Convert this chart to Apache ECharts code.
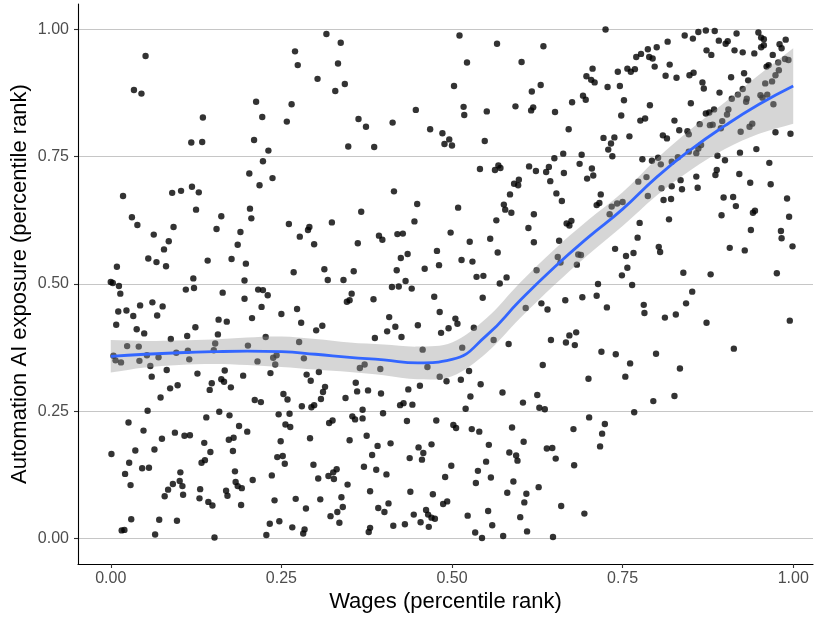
<!DOCTYPE html>
<html>
<head>
<meta charset="utf-8">
<script src="https://cdn.jsdelivr.net/npm/echarts@6/dist/echarts.min.js"></script>
<style>
  html, body { margin: 0; padding: 0; background: #ffffff; }
  #chart { width: 818px; height: 617px; }
</style>
</head>
<body>
<div id="chart"></div>
<script>
// Occupations: [wage percentile rank, automation AI exposure percentile rank]
const occupations = [
  [0.051,0.948],[0.034,0.881],[0.045,0.874],[0.213,0.858],[0.135,0.827],[0.118,0.778],[0.134,0.779],[0.210,0.783],[0.203,0.717],[0.119,0.691],
  [0.222,0.828],[0.223,0.741],[0.231,0.762],[0.237,0.708],[0.218,0.694],[0.270,0.957],[0.274,0.930],[0.265,0.853],[0.258,0.819],[0.316,0.991],[0.337,0.974],[0.333,0.933],[0.303,0.903],[0.343,0.893],[0.329,0.879],[0.363,0.824],[0.374,0.809],[0.348,0.770],[0.386,0.769],[0.413,0.817],[0.447,0.842],[0.468,0.804],
  [0.511,0.988],[0.566,0.972],[0.634,0.967],[0.725,1.000],[0.522,0.935],[0.602,0.936],[0.503,0.889],[0.706,0.923],[0.697,0.908],[0.704,0.901],[0.709,0.896],[0.743,0.917],[0.728,0.887],[0.630,0.891],[0.617,0.878],[0.593,0.849],[0.616,0.841],[0.619,0.847],[0.651,0.838],[0.676,0.857],[0.692,0.870],[0.696,0.862],[0.517,0.848],[0.518,0.832],[0.551,0.839],[0.486,0.796],[0.496,0.784],[0.489,0.775],[0.500,0.772],[0.548,0.781],[0.671,0.804],[0.722,0.787],[0.738,0.788],[0.733,0.776],[0.729,0.764],[0.735,0.751],[0.650,0.747],[0.663,0.756],[0.690,0.754],[0.541,0.726],[0.563,0.724],[0.568,0.733],[0.571,0.728],[0.613,0.731],[0.623,0.722],[0.642,0.730],[0.638,0.720],[0.664,0.718],[0.687,0.736],[0.705,0.727],[0.707,0.713],[0.698,0.707],[0.598,0.705],[0.591,0.697],[0.597,0.694],[0.644,0.702],
  [0.841,0.988],[0.853,0.982],[0.861,0.995],[0.872,0.998],[0.885,0.997],[0.891,0.978],[0.917,0.992],[0.949,0.994],[0.953,0.984],[0.957,0.981],[0.989,0.980],[0.901,0.972],[0.904,0.977],[0.816,0.976],[0.800,0.965],[0.787,0.961],[0.777,0.952],[0.770,0.946],[0.789,0.946],[0.794,0.943],[0.797,0.927],[0.819,0.931],[0.873,0.959],[0.880,0.950],[0.914,0.959],[0.926,0.955],[0.943,0.953],[0.953,0.965],[0.957,0.969],[0.980,0.971],[0.983,0.963],[0.970,0.950],[0.988,0.942],[0.993,0.940],[0.978,0.935],[0.961,0.927],[0.964,0.930],[0.757,0.923],[0.762,0.917],[0.768,0.922],[0.813,0.909],[0.829,0.905],[0.848,0.910],[0.854,0.915],[0.867,0.896],[0.869,0.884],[0.909,0.906],[0.928,0.914],[0.934,0.900],[0.979,0.920],[0.974,0.910],[0.969,0.898],[0.959,0.894],[0.746,0.889],[0.752,0.861],[0.748,0.831],[0.790,0.851],[0.850,0.855],[0.892,0.876],[0.910,0.864],[0.919,0.872],[0.926,0.883],[0.932,0.864],[0.931,0.858],[0.952,0.871],[0.955,0.866],[0.962,0.872],[0.971,0.853],[0.872,0.835],[0.877,0.837],[0.884,0.843],[0.905,0.843],[0.903,0.833],[0.896,0.820],[0.894,0.806],[0.878,0.812],[0.882,0.813],[0.863,0.814],[0.826,0.821],[0.776,0.821],[0.783,0.825],[0.833,0.802],[0.845,0.800],[0.847,0.794],[0.760,0.790],[0.809,0.792],[0.815,0.786],[0.923,0.799],[0.936,0.809],[0.940,0.815],[0.974,0.798],[0.996,0.795],[0.865,0.773],[0.861,0.766],[0.847,0.760],[0.858,0.757],[0.889,0.752],[0.900,0.743],[0.922,0.758],[0.946,0.765],[0.965,0.738],[0.779,0.745],[0.793,0.742],[0.802,0.748],[0.806,0.735],[0.822,0.740],[0.831,0.749],[0.888,0.724],[0.886,0.714],[0.858,0.711],[0.835,0.704],[0.822,0.692],[0.837,0.686],[0.860,0.689],[0.807,0.688],[0.785,0.710],[0.773,0.701],[0.921,0.716],[0.937,0.699],[0.967,0.696],
  [0.018,0.673],[0.090,0.679],[0.103,0.683],[0.129,0.680],[0.125,0.646],[0.031,0.631],[0.039,0.616],[0.162,0.633],[0.204,0.648],[0.206,0.629],[0.092,0.612],[0.155,0.608],[0.190,0.602],[0.063,0.597],[0.085,0.584],[0.186,0.577],[0.078,0.568],[0.055,0.550],[0.067,0.543],[0.081,0.535],[0.142,0.546],[0.177,0.549],[0.198,0.540],[0.009,0.534],[0.121,0.511],[0.000,0.504],[0.003,0.502],[0.012,0.496],[0.014,0.481],[0.110,0.489],[0.122,0.492],[0.164,0.483],[0.196,0.507],[0.196,0.471],[0.011,0.446],[0.023,0.448],[0.033,0.437],[0.043,0.458],[0.061,0.464],[0.076,0.456],[0.068,0.438],[0.008,0.420],[0.038,0.411],[0.049,0.403],[0.124,0.415],[0.112,0.398],[0.088,0.392],[0.158,0.430],[0.170,0.426],[0.207,0.433],[0.157,0.401],[0.024,0.378],[0.041,0.377],[0.004,0.359],[0.007,0.350],[0.015,0.346],[0.053,0.360],[0.042,0.349],[0.070,0.356],[0.096,0.365],[0.113,0.369],[0.115,0.352],[0.151,0.370],[0.153,0.383],[0.201,0.379],[0.215,0.348],[0.058,0.339],[0.082,0.331],[0.127,0.324],[0.167,0.330],
  [0.415,0.682],[0.449,0.657],[0.445,0.623],[0.367,0.642],[0.261,0.618],[0.277,0.593],[0.289,0.606],[0.291,0.612],[0.298,0.578],[0.324,0.621],[0.362,0.580],[0.393,0.595],[0.398,0.587],[0.420,0.598],[0.428,0.599],[0.478,0.565],[0.425,0.551],[0.435,0.559],[0.419,0.527],[0.460,0.530],[0.268,0.523],[0.313,0.529],[0.318,0.508],[0.341,0.508],[0.356,0.525],[0.432,0.506],[0.412,0.494],[0.422,0.495],[0.441,0.491],[0.216,0.489],[0.223,0.488],[0.230,0.478],[0.221,0.455],[0.353,0.481],[0.346,0.465],[0.350,0.468],[0.385,0.470],[0.474,0.475],[0.250,0.441],[0.273,0.451],[0.279,0.424],[0.310,0.418],[0.301,0.409],[0.408,0.435],[0.417,0.416],[0.405,0.407],[0.426,0.396],[0.450,0.419],[0.387,0.394],[0.227,0.396],[0.276,0.386],[0.238,0.355],[0.243,0.360],[0.241,0.342],[0.283,0.354],[0.365,0.335],[0.372,0.342],[0.395,0.333],[0.457,0.371],[0.464,0.337],[0.234,0.325],[0.287,0.322],[0.305,0.327],
  [0.585,0.676],[0.653,0.678],[0.718,0.676],[0.661,0.663],[0.509,0.650],[0.576,0.656],[0.578,0.646],[0.587,0.640],[0.620,0.637],[0.712,0.655],[0.716,0.659],[0.565,0.625],[0.612,0.610],[0.668,0.619],[0.672,0.615],[0.675,0.624],[0.498,0.601],[0.526,0.583],[0.556,0.589],[0.620,0.582],[0.657,0.585],[0.481,0.537],[0.567,0.562],[0.514,0.547],[0.530,0.544],[0.536,0.514],[0.546,0.516],[0.580,0.513],[0.570,0.501],[0.739,0.569],[0.734,0.652],[0.742,0.658],[0.731,0.637],[0.655,0.553],[0.659,0.542],[0.685,0.558],[0.689,0.557],[0.683,0.538],[0.624,0.527],[0.608,0.453],[0.532,0.414],[0.561,0.390],[0.515,0.375],[0.545,0.473],[0.631,0.462],[0.640,0.450],[0.666,0.468],[0.691,0.474],[0.714,0.500],[0.712,0.477],[0.727,0.454],[0.482,0.445],[0.505,0.432],[0.508,0.422],[0.495,0.413],[0.484,0.404],[0.672,0.399],[0.682,0.405],[0.645,0.390],[0.667,0.385],[0.680,0.380],[0.583,0.382],[0.719,0.367],[0.740,0.362],[0.633,0.341],[0.525,0.329],
  [0.750,0.661],[0.787,0.673],[0.810,0.665],[0.821,0.667],[0.898,0.670],[0.912,0.671],[0.916,0.653],[0.895,0.635],[0.941,0.640],[0.944,0.644],[0.991,0.668],[0.994,0.632],[0.818,0.627],[0.775,0.620],[0.938,0.606],[0.982,0.604],[0.983,0.590],[0.999,0.574],[0.772,0.591],[0.803,0.573],[0.805,0.563],[0.907,0.571],[0.929,0.566],[0.766,0.561],[0.755,0.555],[0.757,0.532],[0.749,0.517],[0.839,0.522],[0.879,0.519],[0.976,0.521],[0.764,0.498],[0.852,0.485],[0.843,0.462],[0.781,0.459],[0.782,0.443],[0.812,0.434],[0.828,0.440],[0.873,0.424],[0.995,0.428],[0.913,0.373],[0.799,0.363],[0.761,0.344],[0.834,0.334],
  [0.060,0.318],[0.194,0.320],[0.162,0.313],[0.166,0.308],[0.176,0.297],[0.148,0.305],[0.145,0.292],[0.098,0.301],[0.087,0.295],[0.073,0.277],[0.211,0.272],[0.054,0.251],[0.140,0.238],[0.159,0.249],[0.174,0.242],[0.026,0.228],[0.048,0.212],[0.094,0.208],[0.108,0.202],[0.116,0.203],[0.075,0.196],[0.188,0.221],[0.200,0.210],[0.173,0.194],[0.180,0.198],[0.137,0.188],[0.001,0.166],[0.036,0.173],[0.064,0.175],[0.146,0.170],[0.179,0.172],[0.027,0.149],[0.021,0.127],[0.046,0.138],[0.056,0.139],[0.133,0.149],[0.138,0.154],[0.102,0.130],[0.182,0.132],[0.029,0.105],[0.091,0.107],[0.101,0.113],[0.105,0.103],[0.084,0.096],[0.079,0.083],[0.106,0.086],[0.131,0.097],[0.130,0.079],[0.143,0.072],[0.149,0.065],[0.169,0.094],[0.171,0.084],[0.183,0.111],[0.186,0.103],[0.192,0.099],[0.208,0.115],[0.191,0.066],[0.030,0.038],[0.016,0.016],[0.020,0.017],[0.071,0.037],[0.097,0.035],[0.065,0.008],[0.152,0.002],
  [0.220,0.268],[0.293,0.310],[0.314,0.298],[0.311,0.288],[0.308,0.274],[0.298,0.262],[0.294,0.258],[0.280,0.260],[0.253,0.284],[0.259,0.273],[0.344,0.276],[0.359,0.306],[0.361,0.289],[0.377,0.291],[0.396,0.285],[0.436,0.293],[0.453,0.300],[0.424,0.262],[0.429,0.266],[0.442,0.263],[0.246,0.244],[0.262,0.245],[0.256,0.224],[0.263,0.219],[0.369,0.253],[0.354,0.240],[0.358,0.234],[0.369,0.236],[0.399,0.246],[0.320,0.227],[0.325,0.232],[0.434,0.231],[0.477,0.232],[0.249,0.191],[0.292,0.197],[0.350,0.193],[0.375,0.202],[0.391,0.182],[0.410,0.187],[0.383,0.164],[0.451,0.179],[0.470,0.185],[0.458,0.168],[0.456,0.155],[0.438,0.158],[0.244,0.160],[0.252,0.162],[0.255,0.147],[0.297,0.145],[0.236,0.124],[0.304,0.118],[0.319,0.123],[0.326,0.130],[0.331,0.136],[0.327,0.117],[0.347,0.106],[0.371,0.141],[0.389,0.135],[0.404,0.126],[0.380,0.093],[0.439,0.092],[0.472,0.087],[0.240,0.075],[0.271,0.078],[0.307,0.077],[0.286,0.059],[0.338,0.081],[0.340,0.062],[0.332,0.052],[0.322,0.044],[0.335,0.031],[0.392,0.060],[0.401,0.052],[0.407,0.069],[0.444,0.047],[0.454,0.032],[0.462,0.056],[0.465,0.047],[0.470,0.041],[0.475,0.039],[0.466,0.023],[0.233,0.029],[0.247,0.034],[0.228,0.007],[0.266,0.022],[0.284,0.018],[0.282,0.010],[0.380,0.021],[0.378,0.013],[0.414,0.025],[0.431,0.028],
  [0.482,0.318],[0.492,0.309],[0.513,0.312],[0.542,0.303],[0.527,0.279],[0.520,0.255],[0.574,0.287],[0.604,0.267],[0.625,0.282],[0.628,0.257],[0.636,0.254],[0.700,0.314],[0.502,0.223],[0.506,0.217],[0.529,0.215],[0.540,0.210],[0.588,0.218],[0.678,0.215],[0.701,0.238],[0.724,0.225],[0.720,0.206],[0.717,0.181],[0.554,0.184],[0.605,0.190],[0.584,0.169],[0.594,0.163],[0.596,0.153],[0.639,0.177],[0.647,0.178],[0.652,0.157],[0.679,0.144],[0.499,0.143],[0.490,0.121],[0.550,0.151],[0.538,0.133],[0.535,0.109],[0.557,0.120],[0.590,0.112],[0.581,0.090],[0.609,0.088],[0.606,0.071],[0.627,0.101],[0.660,0.064],[0.694,0.049],[0.487,0.068],[0.493,0.073],[0.523,0.045],[0.553,0.054],[0.559,0.026],[0.600,0.042],[0.534,0.012],[0.544,0.001],[0.575,0.005],[0.610,0.014],[0.648,0.003],
  [0.754,0.318],[0.795,0.270],[0.826,0.280],[0.767,0.248]
];

// Loess fit of exposure on wages, with its 95% confidence band
const smoothWages = [0.00,0.05,0.10,0.15,0.20,0.25,0.30,0.35,0.40,0.45,0.50,0.55,0.60,0.65,0.70,0.75,0.80,0.85,0.90,0.95,1.00];
const smoothFit   = [0.358,0.362,0.365,0.367,0.368,0.367,0.362,0.356,0.351,0.345,0.352,0.398,0.468,0.533,0.592,0.647,0.710,0.764,0.811,0.853,0.889];
const smoothLower = [0.326,0.336,0.341,0.343,0.341,0.337,0.332,0.327,0.321,0.313,0.319,0.364,0.433,0.498,0.558,0.614,0.674,0.724,0.765,0.795,0.815];
const smoothUpper = [0.390,0.388,0.389,0.391,0.395,0.397,0.392,0.385,0.381,0.377,0.385,0.432,0.503,0.568,0.626,0.680,0.746,0.804,0.857,0.911,0.963];

const tickValues = [0, 0.25, 0.5, 0.75, 1];

const fontFamily = '"Liberation Sans", Arial, Helvetica, sans-serif';

const chart = echarts.init(document.getElementById('chart'), null, { renderer: 'canvas' });

const fitLine = smoothWages.map((w, i) => [w, smoothFit[i]]);

// Confidence ribbon: upper edge left to right, lower edge back again.
// Each end vertex is listed twice so the curve keeps square ends.
function renderRibbon(params, api) {
  const n = smoothWages.length;
  const upper = smoothWages.map((w, i) => api.coord([w, smoothUpper[i]]));
  const lower = smoothWages.map((w, i) => api.coord([w, smoothLower[i]])).reverse();
  const pts = [upper[0]].concat(upper, [upper[n - 1], lower[0]], lower, [lower[n - 1]]);
  return {
    type: 'polygon',
    shape: { points: pts, smooth: 0.35 },
    style: { fill: 'rgba(153,153,153,0.4)', stroke: null }
  };
}

const axisCommon = {
  type: 'value',
  axisLine: { show: true, onZero: false, lineStyle: { color: '#000000', width: 1.1 } },
  axisTick: { show: true, customValues: tickValues, length: 4, lineStyle: { color: '#333333', width: 1.1 } },
  axisLabel: {
    customValues: tickValues,
    formatter: v => v.toFixed(2),
    color: '#4d4d4d',
    fontFamily: fontFamily,
    fontSize: 16
  },
  nameLocation: 'middle',
  nameMoveOverlap: false,
  nameTextStyle: { color: '#000000', fontFamily: fontFamily, fontSize: 22 }
};

chart.setOption({
  animation: false,
  backgroundColor: '#ffffff',
  grid: { left: 78, right: 5, top: 4, bottom: 53, outerBoundsMode: 'none' },
  xAxis: Object.assign({}, axisCommon, {
    min: -0.048,
    max: 1.029,
    splitLine: { show: false },
    name: 'Wages (percentile rank)',
    nameGap: 27,
    axisLabel: Object.assign({}, axisCommon.axisLabel, { margin: 7 })
  }),
  yAxis: Object.assign({}, axisCommon, {
    min: -0.05,
    max: 1.05,
    splitLine: { show: true, lineStyle: { color: '#c6c6c6', width: 1.1 } },
    name: 'Automation AI exposure (percentile rank)',
    nameGap: 47,
    axisLabel: Object.assign({}, axisCommon.axisLabel, { margin: 9 })
  }),
  series: [
    {
      type: 'scatter',
      data: occupations,
      symbol: 'circle',
      symbolSize: 6.4,
      itemStyle: { color: '#000000' },
      silent: true,
      z: 2
    },
    {
      type: 'custom',
      renderItem: renderRibbon,
      data: [[0.5, 0.5]],
      silent: true,
      z: 3
    },
    {
      type: 'line',
      data: fitLine,
      smooth: true,
      symbol: 'none',
      lineStyle: { color: '#3366ff', width: 2.8 },
      silent: true,
      z: 4
    }
  ]
});
</script>
</body>
</html>
